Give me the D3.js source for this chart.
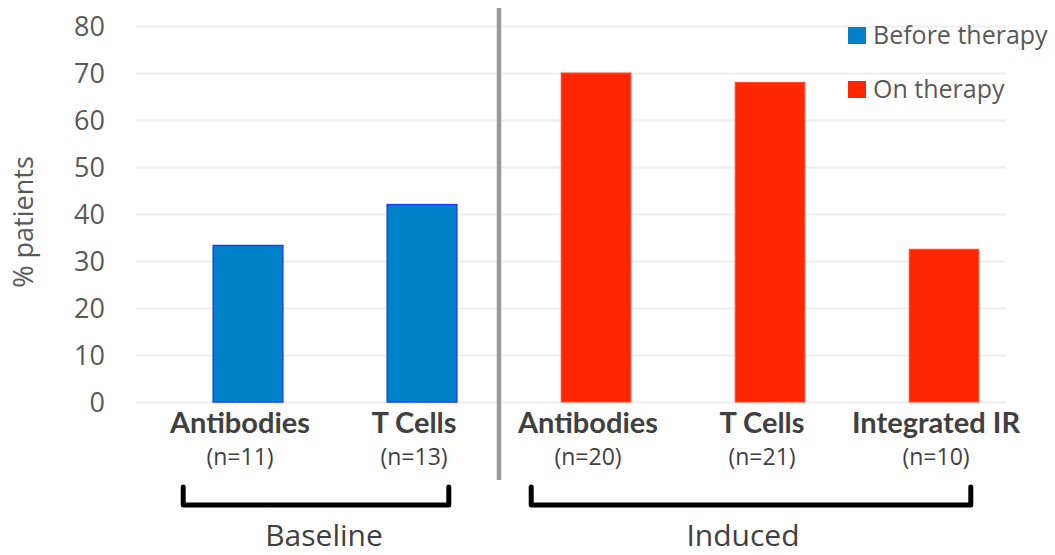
<!DOCTYPE html>
<html>
<head>
<meta charset="utf-8">
<script src="https://cdn.jsdelivr.net/npm/d3@7"></script>
<style>
  html, body { margin: 0; padding: 0; background: #fff; }
  svg { display: block; }
</style>
</head>
<body>
<svg id="chart" width="1055" height="555"></svg>
<script>
// Response rates by assay, before and on therapy
const categories = ["Antibodies", "T Cells", "Antibodies", "T Cells", "Integrated IR"];
const sampleSizes = ["(n=11)", "(n=13)", "(n=20)", "(n=21)", "(n=10)"];
const seriesNames = ["Before therapy", "On therapy"];
const seriesOfBar = [0, 0, 1, 1, 1];
const values = [33.3, 42, 70, 68, 32.5];
const groupNames = ["Baseline", "Induced"];
const groupMembers = [[0, 1], [2, 3, 4]];
const yTicks = [0, 10, 20, 30, 40, 50, 60, 70, 80];

const fills = ["#0082C8", "#FF2600"];
const strokes = ["#1A3CFF", "#FF4A2A"];

const svg = d3.select("#chart");

const plot = { left: 136, right: 1006, top: 26, bottom: 402 };

const y = d3.scaleLinear().domain([0, 80]).range([plot.bottom, plot.top]);
const ids = categories.map((c, i) => i);
const x = d3.scaleBand().domain(ids).range([161, 1031]).paddingInner(0.6).paddingOuter(0.3);
const bw = x.bandwidth();

// gridlines and value ticks
const yAxis = d3.axisLeft(y).tickValues(yTicks).tickSize(-(plot.right - plot.left)).tickPadding(31);
const gy = svg.append("g").attr("transform", `translate(${plot.left},0)`).call(yAxis);
gy.select(".domain").remove();
gy.selectAll(".tick line").attr("stroke", "#EEEEEE").attr("stroke-width", 2);
gy.selectAll(".tick text")
  .attr("font-family", "'Open Sans', sans-serif")
  .attr("font-size", 27)
  .attr("fill", "#595959")
  .attr("dy", "0.36em");

// y axis title
svg.append("text")
  .attr("transform", `translate(33,${(plot.top + plot.bottom) / 2 + 8}) rotate(-90)`)
  .attr("text-anchor", "middle")
  .attr("font-family", "'Open Sans', sans-serif")
  .attr("font-size", 27)
  .attr("fill", "#595959")
  .text("% patients");

// bars
svg.append("g").selectAll("rect")
  .data(ids)
  .join("rect")
  .attr("x", i => x(i))
  .attr("y", i => y(values[i]))
  .attr("width", bw)
  .attr("height", i => y(0) - y(values[i]))
  .attr("fill", i => fills[seriesOfBar[i]])
  .attr("stroke", i => strokes[seriesOfBar[i]])
  .attr("stroke-width", i => seriesOfBar[i] === 0 ? 1.5 : 1);

// separator between baseline and induced groups
const sepX = (x(1) + bw + x(2)) / 2 - 10;
svg.append("line")
  .attr("x1", sepX).attr("x2", sepX)
  .attr("y1", 8).attr("y2", 480)
  .attr("stroke", "#999999")
  .attr("stroke-width", 4.5);

// category labels
const labelX = i => x(i) + bw / 2 - 8;
svg.append("g").selectAll("text")
  .data(ids)
  .join("text")
  .attr("x", labelX)
  .attr("y", 433)
  .attr("text-anchor", "middle")
  .attr("font-family", "Lato, sans-serif")
  .attr("font-weight", "bold")
  .attr("font-size", 29)
  .attr("fill", "#404040")
  .text(i => categories[i]);

svg.append("g").selectAll("text")
  .data(ids)
  .join("text")
  .attr("x", labelX)
  .attr("y", 465)
  .attr("text-anchor", "middle")
  .attr("font-family", "'Open Sans', sans-serif")
  .attr("font-size", 23)
  .attr("fill", "#404040")
  .text(i => sampleSizes[i]);

// group brackets
groupNames.forEach((name, g) => {
  const members = groupMembers[g];
  const x0 = x(members[0]) - 30;
  const x1 = x(members[members.length - 1]) + bw - 8;
  const yTop = 487, yBot = 505;
  svg.append("path")
    .attr("d", `M${x0},${yTop} L${x0},${yBot} L${x1},${yBot} L${x1},${yTop}`)
    .attr("fill", "none")
    .attr("stroke", "#000")
    .attr("stroke-width", 5)
    .attr("stroke-linejoin", "round")
    .attr("stroke-linecap", "round");
  svg.append("text")
    .attr("x", (x0 + x1) / 2 + (g === 0 ? 8 : -8))
    .attr("y", 546)
    .attr("text-anchor", "middle")
    .attr("font-family", "'Open Sans', sans-serif")
    .attr("font-size", 30)
    .attr("fill", "#404040")
    .text(name);
});

// legend
const legend = svg.append("g").attr("transform", "translate(848,27)");
seriesNames.forEach((name, i) => {
  const row = legend.append("g").attr("transform", `translate(0,${i * 54})`);
  row.append("rect").attr("width", 18).attr("height", 17).attr("fill", fills[i]);
  row.append("text")
    .attr("x", 25).attr("y", 17)
    .attr("font-family", "'Open Sans', sans-serif")
    .attr("font-size", 25)
    .attr("fill", "#595959")
    .text(name);
});
</script>
</body>
</html>
